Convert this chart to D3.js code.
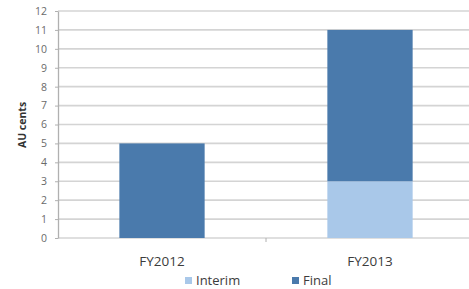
<!DOCTYPE html>
<html>
<head>
<meta charset="utf-8">
<script src="https://cdn.jsdelivr.net/npm/d3@7"></script>
<style>
  body { margin: 0; background: #fff; }
</style>
</head>
<body>
<div id="chart"></div>
<script>
  var categories = ['FY2012', 'FY2013']
  var interim = [0, 3]
  var final = [5, 8]
  var seriesNames = ['Interim', 'Final']
  var yTicks = [0, 1, 2, 3, 4, 5, 6, 7, 8, 9, 10, 11, 12]

  var width = 469
  var height = 289
  var margin = { top: 11, right: -5, bottom: 51, left: 58 }
  var colors = { Interim: '#a9c8e9', Final: '#4a7aac' }

  var rows = categories.map(function (c, i) {
    return { cat: c, Interim: interim[i], Final: final[i] }
  })
  var stacked = d3.stack().keys(seriesNames)(rows)

  var svg = d3.select('#chart').append('svg')
    .attr('width', width)
    .attr('height', height)
    .style('font-family', 'Open Sans, sans-serif')

  var x = d3.scaleBand()
    .domain(categories)
    .range([margin.left, width - margin.right])
    .paddingInner(0.59)
    .paddingOuter(0.295)

  var y = d3.scaleLinear()
    .domain([0, 12])
    .range([height - margin.bottom, margin.top])

  // gridlines
  svg.append('g')
    .selectAll('line')
    .data(yTicks)
    .enter()
    .append('line')
    .attr('x1', margin.left)
    .attr('x2', width)
    .attr('y1', function (d) { return y(d) })
    .attr('y2', function (d) { return y(d) })
    .style('stroke', '#d4d4d4')
    .style('stroke-width', 1.6)

  // bars
  svg.append('g')
    .selectAll('g')
    .data(stacked)
    .enter()
    .append('g')
    .attr('fill', function (d) { return colors[d.key] })
    .selectAll('rect')
    .data(function (d) { return d })
    .enter()
    .append('rect')
    .attr('x', function (d) { return x(d.data.cat) })
    .attr('width', x.bandwidth())
    .attr('y', function (d) { return y(d[1]) })
    .attr('height', function (d) { return y(d[0]) - y(d[1]) })

  // y axis
  var yAxis = svg.append('g')
    .attr('transform', 'translate(' + margin.left + ',0)')
    .call(d3.axisLeft(y).tickValues(yTicks).tickSize(3).tickPadding(8).tickSizeOuter(0))
  yAxis.select('.domain').style('stroke', '#b0b0b0').style('stroke-width', 1.3)
  yAxis.selectAll('.tick line').style('stroke', '#b0b0b0')
  yAxis.selectAll('.tick text')
    .style('font-size', '10.5px')
    .style('fill', '#6a6a6a')
    .style('font-family', 'Open Sans, sans-serif')

  // x axis
  var xAxis = svg.append('g')
    .attr('transform', 'translate(0,' + y(0) + ')')
    .call(d3.axisBottom(x).tickSize(0).tickPadding(18))
  xAxis.select('.domain').remove()
  xAxis.selectAll('.tick text')
    .style('font-size', '13.5px')
    .style('fill', '#3c3c3c')
    .style('font-family', 'Open Sans, sans-serif')

  // band boundary ticks
  svg.append('g')
    .selectAll('line')
    .data(categories.slice(1))
    .enter()
    .append('line')
    .attr('x1', function (d) { return x(d) - x.step() * x.paddingInner() / 2 })
    .attr('x2', function (d) { return x(d) - x.step() * x.paddingInner() / 2 })
    .attr('y1', y(0))
    .attr('y2', y(0) + 4)
    .style('stroke', '#b0b0b0')

  // y label
  svg.append('text')
    .attr('transform', 'translate(26,125) rotate(-90)')
    .attr('text-anchor', 'middle')
    .style('font-size', '10.5px')
    .style('font-weight', 'bold')
    .style('fill', '#333')
    .text('AU cents')

  // legend
  var legendX = [185, 292]
  var legend = svg.append('g')
    .selectAll('g')
    .data(seriesNames)
    .enter()
    .append('g')
    .attr('transform', function (d, i) { return 'translate(' + legendX[i] + ',277)' })
  legend.append('rect')
    .attr('width', 7)
    .attr('height', 7)
    .attr('fill', function (d) { return colors[d] })
  legend.append('text')
    .attr('x', 11)
    .attr('y', 8)
    .style('font-size', '13px')
    .style('fill', '#3c3c3c')
    .text(function (d) { return d })
</script>
</body>
</html>
